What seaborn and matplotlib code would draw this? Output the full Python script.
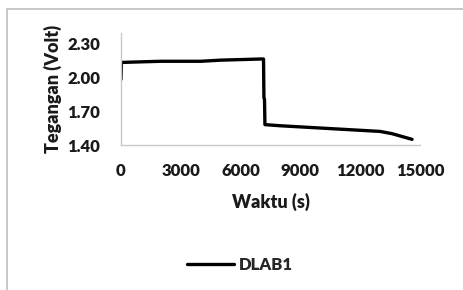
import numpy as np
import pandas as pd
import matplotlib
matplotlib.use('Agg')
import matplotlib.pyplot as plt
from matplotlib.patches import Rectangle
import seaborn as sns

# Discharge curve
waktu = [0, 20, 40, 1000, 2000, 3000, 4000, 5000, 6000, 7000, 7150, 7170, 7200,
         7220, 8000, 9000, 10000, 11000, 12000, 13000, 13600, 14000, 14300, 14600]
tegangan = [1.98, 2.12, 2.13, 2.135, 2.14, 2.14, 2.14, 2.15, 2.155, 2.16, 2.16, 1.82, 1.80,
            1.58, 1.57, 1.56, 1.55, 1.54, 1.53, 1.52, 1.50, 1.48, 1.465, 1.45]
series_name = 'DLAB1'
x_ticks = [0, 3000, 6000, 9000, 12000, 15000]
y_ticks = [1.40, 1.70, 2.00, 2.30]

sns.set_style('white')
plt.rcParams['font.family'] = ['Lato', 'DejaVu Sans']
plt.rcParams['font.weight'] = 'heavy'

df = pd.DataFrame({'Waktu (s)': waktu, 'Tegangan (Volt)': tegangan, 'seri': series_name})

fig = plt.figure(figsize=(4.64, 2.90), dpi=100)
ax = fig.add_axes([121 / 464, 1 - 145 / 290, (420 - 121) / 464, (145 - 33) / 290])

sns.lineplot(data=df, x='Waktu (s)', y='Tegangan (Volt)', hue='seri',
             palette=['black'], linewidth=2.4, sort=False, ax=ax)

ax.set_xlim(0, 15000)
ax.set_ylim(1.40, 2.39)
ax.set_xticks(x_ticks)
ax.set_xticklabels([str(t) for t in x_ticks])
ax.set_yticks(y_ticks)
ax.set_yticklabels([f'{t:.2f}' for t in y_ticks])
ax.tick_params(axis='both', labelsize=12, length=0, colors='#1a1a1a')
ax.tick_params(axis='x', pad=13)
ax.tick_params(axis='y', pad=15)
for lab in ax.get_xticklabels() + ax.get_yticklabels():
    lab.set_fontweight('heavy')
ax.set_xlabel('Waktu (s)', fontsize=13, fontweight='heavy', color='#1a1a1a', labelpad=10)
ax.set_ylabel('Tegangan (Volt)', fontsize=13, fontweight='heavy', color='#1a1a1a', labelpad=4)

for side in ['top', 'right']:
    ax.spines[side].set_visible(False)
for side in ['left', 'bottom']:
    ax.spines[side].set_color('#c8c8c8')
    ax.spines[side].set_linewidth(1.0)

ax.legend(loc='center', bbox_to_anchor=(240 / 464, 1 - 265 / 290),
          bbox_transform=fig.transFigure, frameon=False,
          handlelength=2.8, handletextpad=0.3, prop={'weight': 'heavy', 'size': 12})

# chart area border (only left and top visible in the crop)
fig.patches.append(Rectangle((7 / 464, -0.1), 1.2, 1 - 9 / 290 + 0.1,
                             transform=fig.transFigure, fill=False,
                             edgecolor='#bdbdbd', linewidth=1.2))

fig.savefig('out.png', dpi=100)
